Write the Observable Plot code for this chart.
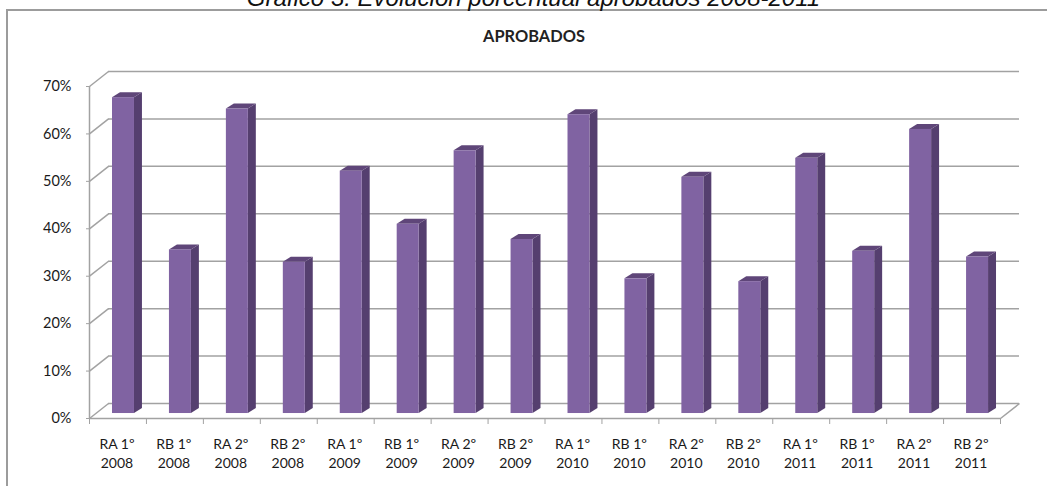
<!DOCTYPE html>
<html lang="es">
<head>
<meta charset="utf-8">
<script src="https://cdn.jsdelivr.net/npm/d3@7"></script>
<script src="https://cdn.jsdelivr.net/npm/@observablehq/plot@0.6"></script>
<style>
  html, body { margin: 0; padding: 0; background: #fff; overflow: hidden; }
  #caption { height: 9px; text-align: center; font: italic 24px "Liberation Sans", Arial, sans-serif; color: #111; line-height: 9px; white-space: nowrap; padding-left: 20px; }
  #caption span { position: relative; top: -7.5px; }
  #box { margin-left: 6px; border-left: 2px solid #9c9c9c; border-top: 2px solid #9c9c9c; }
</style>
</head>
<body>
<div id="caption"><span>Gráfico 3: Evolución porcentual aprobados 2008-2011</span></div>
<div id="box"></div>
<script>
const categories = ["RA 1º","RB 1º","RA 2º","RB 2º","RA 1º","RB 1º","RA 2º","RB 2º","RA 1º","RB 1º","RA 2º","RB 2º","RA 1º","RB 1º","RA 2º","RB 2º"];
const years = [2008,2008,2008,2008,2009,2009,2009,2009,2010,2010,2010,2010,2011,2011,2011,2011];
const values = [66.6,34.5,64.2,31.9,51.1,39.9,55.4,36.7,63.0,28.4,49.8,27.8,53.8,34.2,59.9,33.0];
const yTicks = [0,10,20,30,40,50,60,70];
const chartTitle = "APROBADOS";

// Oblique projection of the 3-D chart, expressed in scale units
const wallX = 0.334, wallY = 3.16;          // depth of the back wall
const barLift = 1.05, barDepthX = 0.14;     // position and depth of a bar on the floor
const barLeft = 0.404, barRight = 0.79;     // bar's span within its category

const bars = values.map((v, i) => ({
  i, v,
  xl: i + barLeft, xr: i + barRight,
  top: v + barLift
}));
const side = bars.flatMap(b => [
  {i: b.i, x: b.xr, y1: barLift, y2: b.top},
  {i: b.i, x: b.xr + barDepthX, y1: barLift * 2, y2: b.top + barLift}
]);
const cap = bars.flatMap(b => [
  {i: b.i, y: b.top, x1: b.xl, x2: b.xr},
  {i: b.i, y: b.top + barLift, x1: b.xl + barDepthX, x2: b.xr + barDepthX}
]);
const gridColor = "#a2a2a2";
const n = categories.length;

const chart = Plot.plot({
  width: 1039, height: 475,
  marginLeft: 81, marginRight: 47, marginTop: 75, marginBottom: 68,
  style: {fontFamily: "Lato, sans-serif", color: "#1a1a1a", background: "#fff", overflow: "visible"},
  x: {domain: [0, n], label: null},
  y: {domain: [0, 70], label: null},
  marks: [
    Plot.ruleY(yTicks, {y: d => d + wallY, x1: wallX, x2: n + wallX, stroke: gridColor, strokeWidth: 1.5}),
    Plot.link(yTicks, {x1: 0, y1: d => d, x2: wallX, y2: d => d + wallY, stroke: gridColor, strokeWidth: 1.5}),
    Plot.link([0], {x1: n, y1: 0, x2: n + wallX, y2: wallY, stroke: gridColor, strokeWidth: 1.5}),
    Plot.ruleX([0], {y1: 0, y2: 70, stroke: gridColor, strokeWidth: 1.5}),
    Plot.ruleY([0], {x1: 0, x2: n, stroke: gridColor, strokeWidth: 1.5}),
    Plot.areaY(side, {x: "x", y1: "y1", y2: "y2", z: "i", fill: "#553f6f"}),
    Plot.areaX(cap, {y: "y", x1: "x1", x2: "x2", z: "i", fill: "#5f4679"}),
    Plot.rect(bars, {x1: "xl", x2: "xr", y1: barLift, y2: "top", fill: "#8063a2", inset: 0}),
    Plot.axisY({ticks: yTicks, tickSize: 3, tickPadding: 15, tickFormat: d => d + "%", stroke: gridColor, fontSize: 14.5, label: null}),
    Plot.axisX({ticks: d3.range(n + 1), tickSize: 6, tickFormat: () => "", stroke: gridColor, label: null}),
    Plot.axisX({
      ticks: d3.range(n).map(i => i + 0.5), tickSize: 0, tickPadding: 16, dx: -1,
      tickFormat: d => categories[Math.floor(d)] + "\n" + years[Math.floor(d)],
      fontSize: 14, lineHeight: 1.42, label: null
    }),
    Plot.text([chartTitle], {frameAnchor: "top", dx: -11, dy: -56, fontSize: 16.4, fontWeight: "bold", fill: "#222"})
  ]
});
document.getElementById("box").appendChild(chart);
</script>
</body>
</html>
